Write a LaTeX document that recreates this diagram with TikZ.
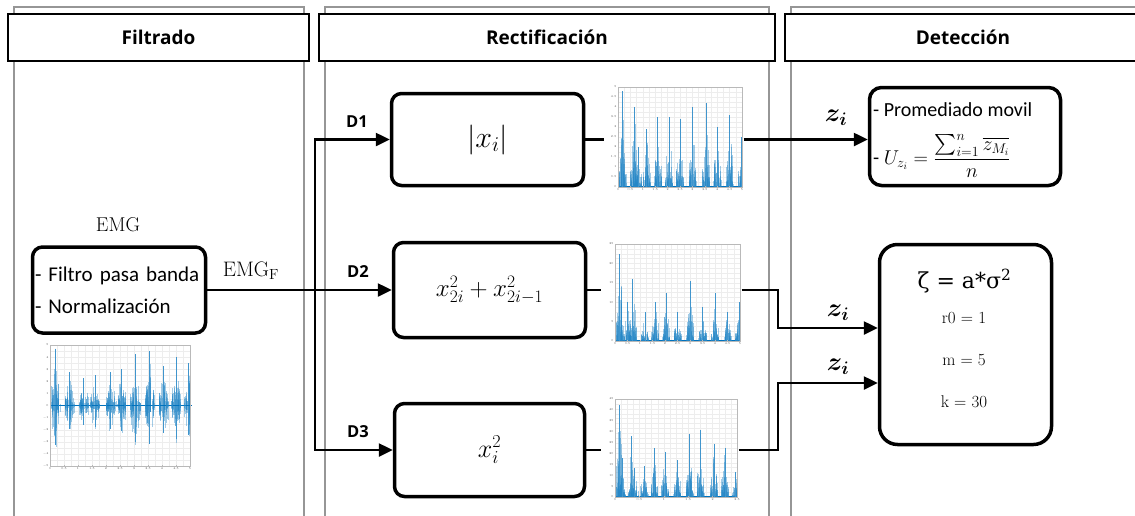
\RequirePackage{fix-cm}
\documentclass[tikz,border=0pt]{standalone}
\usepackage{amsmath}
\usepackage{fontspec}
\newfontfamily\hdrfont{Open Sans}
\newfontfamily\calib{Carlito}
\newfontfamily\dser{DejaVu Serif}
\usetikzlibrary{arrows.meta,calc}
\definecolor{mblue}{RGB}{0,114,189}
\definecolor{lanegray}{RGB}{150,150,150}
\tikzset{
  lane/.style={draw=lanegray,line width=1.3pt},
  header/.style={draw=black,line width=1.6pt,fill=white,inner sep=0pt,
    font=\hdrfont\bfseries\fontsize{19}{22}\selectfont},
  rbox/.style={draw=black,line width=3.5pt,fill=white,inner sep=0pt},
  conn/.style={draw=black,line width=2.5pt},
  arr/.style={conn,-{Triangle[length=14pt,width=13pt]}},
  dlab/.style={font=\hdrfont\bfseries\fontsize{16.5}{18}\selectfont,inner sep=0pt},
  zlab/.style={font=\fontsize{26}{28}\selectfont,inner sep=0pt},
  gridline/.style={draw=gray!14,line width=0.25pt},
  framec/.style={draw=gray!55,line width=0.4pt},
  sigl/.style={draw=mblue!85,line width=0.55pt,opacity=0.42},
  sigd/.style={draw=mblue!75,line width=0.5pt},
  tick/.style={inner sep=0.6pt,text=gray!70!black,font=\fontsize{3}{3}\selectfont},
}
% #1 name, #2 x0, #3 y0, #4 w, #5 h, #6 symmetric(1)/rectified(0), #7 bursts p/h,
% #8 xmax/nx, #9 ymin/ymax/ny
\newcommand\sigplot[9]{%
  \node[inner sep=0pt,minimum width=#4+15,minimum height=#5+10] (#1) at (#2+#4/2-6,#3+#5/2+4) {};
  \begin{scope}[shift={(#2,#3)}]
    \foreach \g in {1,...,19}{\draw[gridline] (\g*#4/20,0) -- (\g*#4/20,#5);}
    \foreach \g in {1,...,19}{\draw[gridline] (0,\g*#5/20) -- (#4,\g*#5/20);}
    \ifnum#6=1
      \draw[draw=mblue,line width=0.7pt] (0,#5/2) -- (#4,#5/2);
      \foreach \p/\h in {#7}{
        \foreach \k in {1,...,40}{
          \pgfmathsetmacro\o{2*rnd-1}
          \pgfmathsetmacro\xx{min(max((\p+0.034*\o)*#4,0.5),#4-0.5)}
          \pgfmathsetmacro\ha{\h*#5/2*(1-0.65*abs(\o))*(0.1+0.9*rnd*rnd)}
          \pgfmathsetmacro\hb{\h*#5/2*(1-0.65*abs(\o))*(0.1+0.9*rnd*rnd)}
          \draw[sigl] (\xx,#5/2-\ha) -- (\xx,#5/2+\hb);
        }
        \pgfmathsetmacro\xc{min(max(\p*#4,0.5),#4-0.5)}
        \draw[sigd] (\xc,#5/2-\h*#5/2) -- (\xc,#5/2+0.7*\h*#5/2);
        \draw[draw=mblue,line width=1.4pt] (\xc-3,#5/2) -- (\xc+3,#5/2);
      }
    \else
      \fill[mblue] (0,#5) rectangle (#4,#5-1.4);
      \foreach \p/\h in {#7}{
        \foreach \k in {1,...,40}{
          \pgfmathsetmacro\o{2*rnd-1}
          \pgfmathsetmacro\xx{min(max((\p+0.03*\o)*#4,0.5),#4-0.5)}
          \pgfmathsetmacro\hh{\h*#5*(1-0.65*abs(\o))*(0.1+0.9*rnd*rnd)}
          \draw[sigl] (\xx,#5) -- ++(0,-\hh);
        }
        \pgfmathsetmacro\xc{min(max(\p*#4,0.5),#4-0.5)}
        \draw[sigd] (\xc,#5) -- ++(0,-\h*#5);
      }
    \fi
    \draw[framec] (0,0) rectangle (#4,#5);
    \foreach \xm/\nx in {#8}{
      \foreach \i in {0,...,\nx}{
        \pgfmathsetmacro\v{\xm*\i/\nx}
        \draw[framec] (\i*#4/\nx,#5) -- ++(0,-1.2);
        \node[tick,anchor=north] (#1-x\i) at (\i*#4/\nx,#5+0.8) {\pgfmathprintnumber{\v}};
      }
    }
    \foreach \ya/\yb/\ny in {#9}{
      \foreach \i in {0,...,\ny}{
        \pgfmathsetmacro\v{\ya+(\yb-\ya)*\i/\ny}
        \draw[framec] (0,#5-\i*#5/\ny) -- ++(1.2,0);
        \node[tick,anchor=east] (#1-y\i) at (-0.8,#5-\i*#5/\ny) {\pgfmathprintnumber{\v}};
      }
    }
  \end{scope}%
}
\begin{document}
\begin{tikzpicture}[x=1pt,y=-1pt]
\pgfmathsetseed{4242}
\useasboundingbox (0,0) rectangle (1135,515);
\clip (0,0) rectangle (1135,515);
\fill[white] (0,0) rectangle (1135,515);

% lanes
\draw[lane] (14,530) -- (14,7) -- (304,7) -- (304,530);
\draw[lane] (325,530) -- (325,7) -- (769,7) -- (769,530);
\draw[lane] (791,530) -- (791,7) -- (1150,7);
\node[header,minimum width=301,minimum height=47] (h1) at (158.5,37.5) {Filtrado};
\node[header,minimum width=456,minimum height=47] (h2) at (547,37.5) {Rectificación};
\node[header,minimum width=360,minimum height=47] (h3) at (965,37.5) {};
\node[font=\hdrfont\bfseries\fontsize{19}{22}\selectfont,inner sep=0pt] (h3t) at (963,37.5) {Detección};

% Filtrado
\node[inner sep=0pt,font=\fontsize{20}{22}\selectfont] (emg) at (118,225) {EMG};
\node[rbox,rounded corners=10pt,minimum width=173,minimum height=86,text width=168,
  inner xsep=2.5pt,align=left,font=\calib\fontsize{21}{32}\selectfont] (filt) at (119,290)
  {- Filtro pasa banda\\- Normalización};
\sigplot{p0}{50}{345}{140}{121}{1}{0.036/0.94,0.14/0.55,0.24/0.45,0.32/0.5,0.43/0.55,0.51/0.6,0.61/0.85,0.71/0.9,0.81/0.65,0.90/0.8,0.99/0.7}{5/10}{-5/5/10}
\node[inner sep=0pt,font=\fontsize{21}{24}\selectfont] (emgf) at (251,271) {$\mathrm{EMG}_{\mathrm{F}}$};

% Rectificacion boxes
\node[rbox,rounded corners=10pt,minimum width=192,minimum height=92] (d1) at (487.5,139.5)
  {\fontsize{30}{34}\selectfont$|x_i|$};
\node[rbox,rounded corners=10pt,minimum width=192,minimum height=95] (d2) at (489.5,290)
  {\fontsize{25}{28}\selectfont$x_{2i}^2+x_{2i-1}^2$};
\node[rbox,rounded corners=10pt,minimum width=190,minimum height=93] (d3) at (489.5,450)
  {\fontsize{26}{28}\selectfont$x_i^2$};
\node[dlab] (l1) at (357,122) {D1};
\node[dlab] (l2) at (358,272) {D2};
\node[dlab] (l3) at (358,432) {D3};

% plots
\sigplot{p1}{618}{87}{124}{100}{0}{0.035/0.96,0.13/0.8,0.16/0.4,0.23/0.58,0.32/0.7,0.41/0.7,0.5/0.68,0.6/0.8,0.71/0.84,0.8/0.6,0.9/0.72,0.995/0.5}{5/10}{0/5/10}
\sigplot{p2}{615}{244}{125}{97}{0}{0.035/0.9,0.1/0.4,0.14/0.64,0.24/0.3,0.32/0.4,0.41/0.5,0.5/0.3,0.6/0.62,0.7/0.35,0.8/0.5,0.9/0.3,0.99/0.4}{5/10}{0/25/5}
\sigplot{p3}{615}{399}{122}{98}{0}{0.036/0.94,0.06/0.4,0.137/0.62,0.16/0.3,0.24/0.32,0.32/0.5,0.41/0.46,0.507/0.38,0.61/0.64,0.7/0.68,0.81/0.54,0.9/0.5,0.986/0.26}{2.5/5}{0/45/9}

% Deteccion boxes
\node[rbox,rounded corners=12pt,minimum width=191,minimum height=98] (prom) at (965,136.5) {};
\node[inner sep=0pt,anchor=west,font=\calib\fontsize{20}{22}\selectfont] (promt1) at (873,110) {- Promediado movil};
\node[inner sep=0pt,anchor=west,font=\calib\fontsize{20}{22}\selectfont] (promt2) at (873,156)
  {- $\displaystyle U_{z_i}=\frac{\sum_{i=1}^{n}\overline{z_{M_i}}}{n}$};
\node[rbox,rounded corners=18pt,minimum width=172,minimum height=200] (zeta) at (965.5,344.5) {};
\node[inner sep=0pt,font=\dser\fontsize{22}{24}\selectfont] (zeq) at (964.5,281) {ζ = a*σ\textsuperscript{2}};
\node[inner sep=0pt,font=\fontsize{17}{19}\selectfont] (zr) at (964,318) {r0 = 1};
\node[inner sep=0pt,font=\fontsize{17}{19}\selectfont] (zm) at (964,360) {m = 5};
\node[inner sep=0pt,font=\fontsize{17}{19}\selectfont] (zk) at (964,402) {k = 30};
\node[zlab] (z1) at (836,118) {$\boldsymbol{z_i}$};
\node[zlab] (z2) at (838,313) {$\boldsymbol{z_i}$};
\node[zlab] (z3) at (838,367) {$\boldsymbol{z_i}$};

% connectors
\coordinate (split) at (315,290);
\coordinate (bend) at (778,0);
\coordinate (in2) at ($(zeta.west)+(0,-16.5)$);
\coordinate (in3) at ($(zeta.west)+(0,38.5)$);
\draw[conn] (filt.east) -- (split);
\draw[arr] (split) |- (d1.west);
\draw[arr] (split) -- (d2.west);
\draw[arr] (split) |- (d3.west);
\draw[conn] (d1.east) -- (d1.east -| p1.west);
\draw[arr] (p1.east |- d1.east) -- (d1.east -| prom.west);
\draw[conn] (d2.east) -- (d2.east -| p2.west);
\draw[arr] (p2.east |- d2.east) -| (bend |- in2) -- (in2);
\draw[conn] (d3.east) -- (d3.east -| p3.west);
\draw[arr] (p3.east |- d3.east) -| (bend |- in3) -- (in3);
\end{tikzpicture}
\end{document}
